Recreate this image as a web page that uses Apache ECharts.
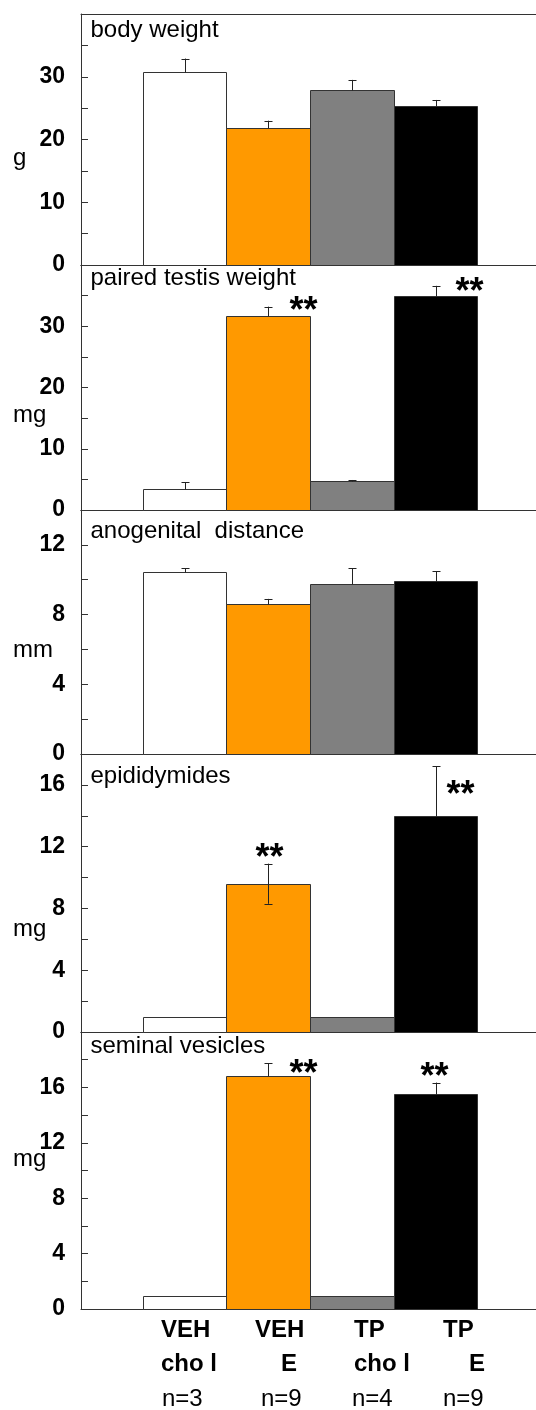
<!DOCTYPE html>
<html>
<head>
<meta charset="utf-8">
<script src="https://cdn.jsdelivr.net/npm/echarts@6/dist/echarts.min.js"></script>
<style>
html,body{margin:0;padding:0;background:#fff;}
#chart{width:536px;height:1410px;}
</style>
</head>
<body>
<div id="chart"></div>
<script>
// ---------- data ----------
const groupLine1 = ['VEH', 'VEH', 'TP', 'TP'];
const groupLine2 = ['cho l', 'E', 'cho l', 'E'];
const groupN = ['n=3', 'n=9', 'n=4', 'n=9'];

const panelTitles = ['body weight', 'paired testis weight', 'anogenital  distance', 'epididymides', 'seminal vesicles'];
const panelUnits = ['g', 'mg', 'mm', 'mg', 'mg'];

const bodyWeight = [30.7, 21.9, 27.9, 25.3];
const bodyWeightErr = [2.2, 1.1, 1.6, 1.0];
const testisWeight = [3.5, 31.7, 4.8, 35.0];
const testisWeightErr = [1.0, 1.5, 0.1, 1.6];
const anogenitalDistance = [10.45, 8.6, 9.76, 9.95];
const anogenitalDistanceErr = [0.2, 0.3, 0.9, 0.55];
const epididymides = [1.0, 9.6, 1.0, 14.0];
const epididymidesErr = [0, 1.3, 0, 3.2];
const seminalVesicles = [0.95, 16.8, 0.95, 15.55];
const seminalVesiclesErr = [0, 0.95, 0, 0.8];

const testisSig = ['', '**', '', '**'];
const epididymidesSig = ['', '**', '', '**'];
const seminalSig = ['', '**', '', '**'];
const noSig = ['', '', '', ''];

const yMaxes = [40, 40, 14, 18, 20];
const yTickSteps = [5, 5, 2, 2, 2];
const yLabelSteps = [10, 10, 4, 4, 4];

// ---------- layout / style ----------
const FONT = '"Liberation Sans", Arial, Helvetica, sans-serif';
const colors = ['#ffffff', '#ff9900', '#808080', '#000000'];
const frameColor = '#333333';
const gridTops = [14, 265, 510, 754, 1032];
const gridBottoms = [265, 510, 754, 1032, 1309];
const gridLeft = 81, gridRight = 0;
const xMin = -1.2366, xMax = 4.199;
const twoSided = [[0,0,0,0],[0,0,0,0],[0,0,0,0],[0,1,0,0],[0,0,0,0]];
const starOffsets = [
  [[0,0],[0,0],[0,0],[0,0]],
  [[0,0],[35,-3],[0,0],[33,-1]],
  [[0,0],[0,0],[0,0],[0,0]],
  [[0,0],[1,-13],[0,0],[24,22]],
  [[0,0],[35,4],[0,0],[-2,-12.5]]
];
const titleMidY = [30.5, 278.3, 531.7, 776.3, 1046.7];
const unitMidY = [158, 415.8, 650.6, 929, 1159];
const labelPadBottom = [0, 0, 0, 8, 8];
const row1X = [161, 255, 354, 443];
const row2X = [161, 281, 354, 469];
const row3X = [162, 261, 352, 443];
const rowY = [1330, 1364, 1399];

const values = [bodyWeight, testisWeight, anogenitalDistance, epididymides, seminalVesicles];
const errs = [bodyWeightErr, testisWeightErr, anogenitalDistanceErr, epididymidesErr, seminalVesiclesErr];
const sigs = [noSig, testisSig, noSig, epididymidesSig, seminalSig];

const chart = echarts.init(document.getElementById('chart'), null, {renderer: 'canvas'});

const grids = [], xAxes = [], yAxes = [], series = [], graphics = [];

for (let k = 0; k < 5; k++) {
  grids.push({
    left: gridLeft, right: gridRight, top: gridTops[k], height: gridBottoms[k] - gridTops[k],
    show: false
  });
  // bottom and top frame lines
  ['bottom', 'top'].forEach(function (pos) {
    xAxes.push({
      gridIndex: k, type: 'value', position: pos, min: xMin, max: xMax,
      axisLine: {show: true, onZero: false, lineStyle: {color: frameColor, width: 1}},
      axisTick: {show: false}, axisLabel: {show: false}, splitLine: {show: false}
    });
  });
  const ymax = yMaxes[k], lstep = yLabelSteps[k];
  yAxes.push({
    gridIndex: k, type: 'value', min: 0, max: ymax, interval: yTickSteps[k],
    axisLine: {show: true, onZero: false, lineStyle: {color: frameColor, width: 1}},
    axisTick: {show: true, inside: true, length: 7, lineStyle: {color: frameColor, width: 1}},
    splitLine: {show: false},
    axisLabel: {
      show: true, margin: 16, color: '#000', fontFamily: FONT, fontWeight: 'bold', fontSize: 23,
      padding: [0, 0, labelPadBottom[k], 0],
      formatter: function (v) { return (Math.abs(v % lstep) < 1e-9 && v < ymax) ? String(v) : ''; }
    }
  });
  const data = values[k].map((v, i) => [i, v, errs[k][i], twoSided[k][i]]);
  const sig = sigs[k], offs = starOffsets[k];
  series.push({
    type: 'custom', xAxisIndex: 2 * k, yAxisIndex: k, clip: false,
    encode: {x: 0, y: 1},
    data: data,
    renderItem: function (params, api) {
      const i = api.value(0), v = api.value(1), e = api.value(2), two = api.value(3);
      const pTL = api.coord([i - 0.5, v]);
      const pBR = api.coord([i + 0.5, 0]);
      const x0 = Math.round(pTL[0]) + 0.5, x1 = Math.round(pBR[0]) + 0.5;
      const y0 = Math.round(pTL[1]) + 0.5, y1 = Math.round(pBR[1]) + 0.5;
      const children = [{
        type: 'rect',
        shape: {x: x0, y: y0, width: x1 - x0, height: y1 - y0},
        style: {fill: colors[i], stroke: frameColor, lineWidth: 1}
      }];
      const cx = Math.round(api.coord([i, v])[0]) + 0.5;
      const topY = api.coord([i, v + e])[1];
      if (e > 0) {
        const lowY = two ? api.coord([i, v - e])[1] : y0;
        children.push({type: 'line', shape: {x1: cx, y1: topY, x2: cx, y2: lowY}, style: {stroke: '#222', lineWidth: 1}});
        children.push({type: 'line', shape: {x1: cx - 4, y1: Math.round(topY) + 0.5, x2: cx + 4, y2: Math.round(topY) + 0.5}, style: {stroke: '#222', lineWidth: 1}});
        if (two) {
          children.push({type: 'line', shape: {x1: cx - 4, y1: Math.round(lowY) + 0.5, x2: cx + 4, y2: Math.round(lowY) + 0.5}, style: {stroke: '#222', lineWidth: 1}});
        }
      }
      if (sig[i]) {
        children.push({
          type: 'text', x: cx + offs[i][0], y: topY + offs[i][1] + 8,
          style: {text: sig[i], font: 'bold 36px ' + FONT, fill: '#000', align: 'center', verticalAlign: 'middle', textAlign: 'center', textVerticalAlign: 'middle'}
        });
      }
      return {type: 'group', children: children};
    }
  });
  graphics.push({
    type: 'text', x: 90.5, y: titleMidY[k],
    style: {text: panelTitles[k], font: '24px ' + FONT, fill: '#000', align: 'left', verticalAlign: 'middle', textAlign: 'left', textVerticalAlign: 'middle'}
  });
  graphics.push({
    type: 'text', x: 13, y: unitMidY[k],
    style: {text: panelUnits[k], font: '24px ' + FONT, fill: '#000', align: 'left', verticalAlign: 'middle', textAlign: 'left', textVerticalAlign: 'middle'}
  });
}

for (let i = 0; i < 4; i++) {
  graphics.push({type: 'text', x: row1X[i], y: rowY[0],
    style: {text: groupLine1[i], font: 'bold 24px ' + FONT, fill: '#000', align: 'left', verticalAlign: 'middle', textAlign: 'left', textVerticalAlign: 'middle'}});
  graphics.push({type: 'text', x: row2X[i], y: rowY[1],
    style: {text: groupLine2[i], font: 'bold 24px ' + FONT, fill: '#000', align: 'left', verticalAlign: 'middle', textAlign: 'left', textVerticalAlign: 'middle'}});
  graphics.push({type: 'text', x: row3X[i], y: rowY[2],
    style: {text: groupN[i], font: '24px ' + FONT, fill: '#000', align: 'left', verticalAlign: 'middle', textAlign: 'left', textVerticalAlign: 'middle'}});
}

chart.setOption({
  animation: false,
  backgroundColor: '#ffffff',
  grid: grids,
  xAxis: xAxes,
  yAxis: yAxes,
  series: series,
  graphic: graphics
});
</script>
</body>
</html>
